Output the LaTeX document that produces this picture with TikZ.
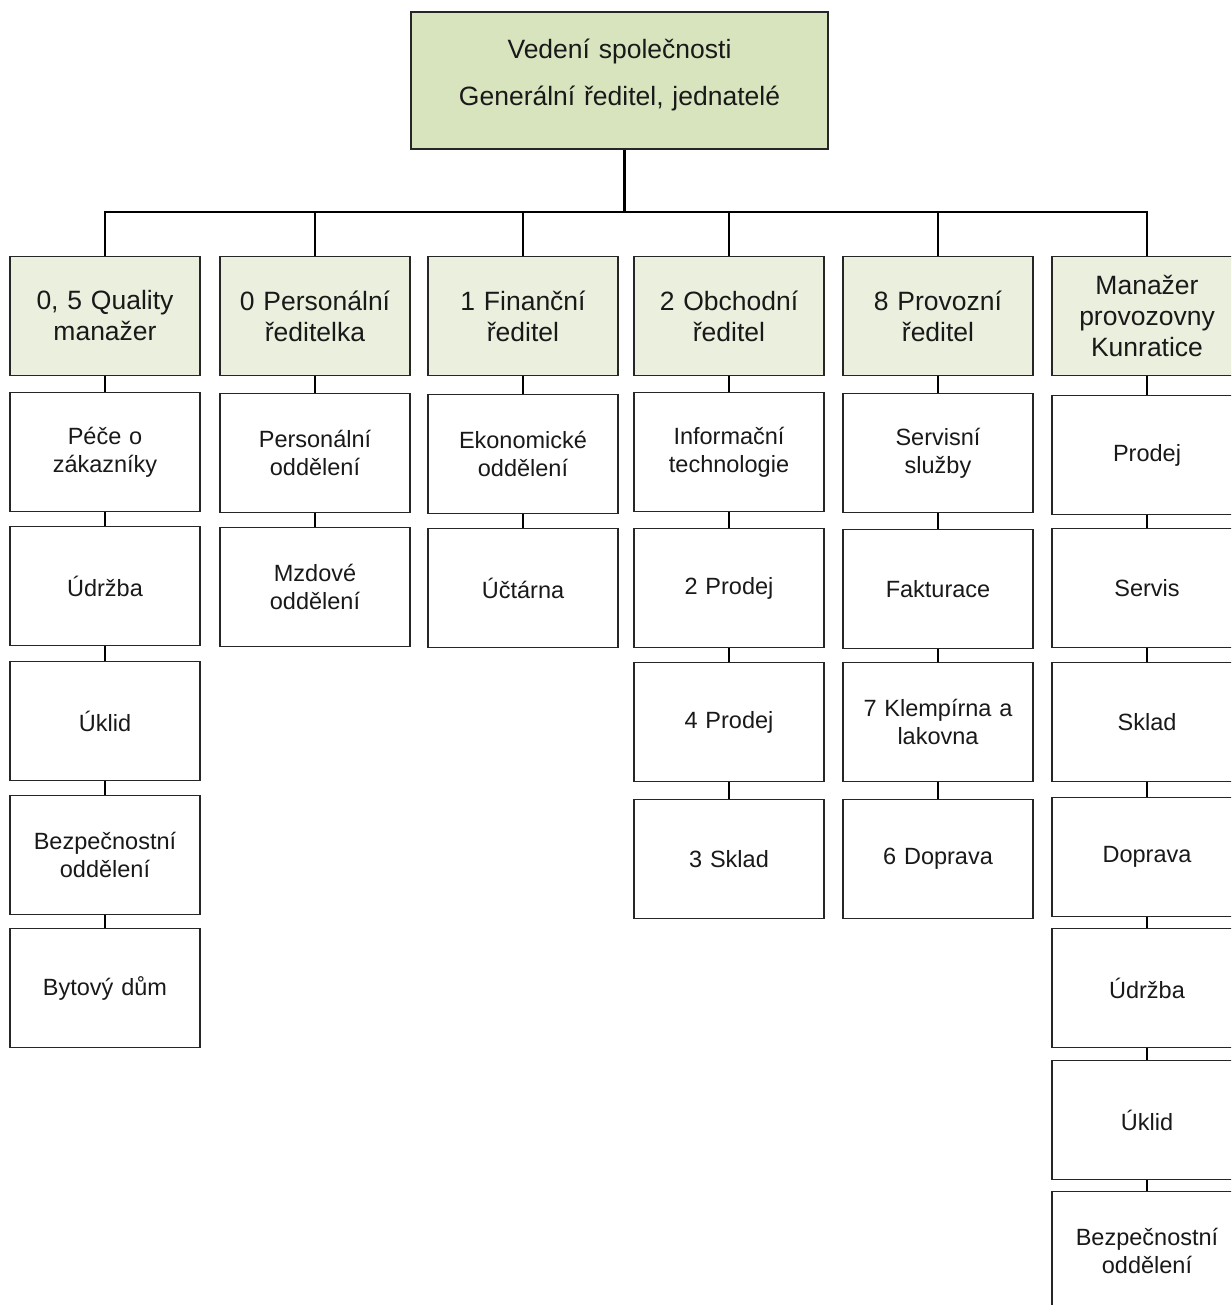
\documentclass[tikz,border=0pt]{standalone}
\usepackage{fontspec}
\setmainfont{Liberation Sans}
\definecolor{headgreen}{HTML}{D8E4BE}
\definecolor{paleolive}{HTML}{EBEFDE}
\begin{document}
\begin{tikzpicture}[x=1pt, y=-1pt]
        \tikzset{
            box/.style={rectangle, draw=black!85, line width=1.3pt, minimum width=190pt, minimum height=119pt,
                        text width=184pt, align=center, inner sep=0pt, text=black!90},
            head/.style={box, fill=headgreen, minimum width=417pt, minimum height=137pt, text width=400pt,
                         text depth=63pt, font=\fontsize{26.5}{47}\selectfont},
            chief/.style={box, fill=paleolive, font=\fontsize{26.5}{31}\selectfont},
            unit/.style={box, fill=white, font=\fontsize{23.5}{28}\selectfont},
            link/.style={line width=2.2pt, black}
        }
        \clip (0,0) rectangle (1231,1305);

        \node[head] (top) at (619.5,80.5) {Vedení společnosti\\Generální ředitel, jednatelé};

        % directors
        \node[chief] (q) at (105,316) {0, 5 Quality\\manažer};
        \node[chief] (p) at (315,316) {0 Personální\\ředitelka};
        \node[chief] (f) at (523,316) {1 Finanční\\ředitel};
        \node[chief] (o) at (729,316) {2 Obchodní\\ředitel};
        \node[chief] (s) at (938,316) {8 Provozní\\ředitel};
        \node[chief] (k) at (1147,316) {Manažer\\provozovny\\Kunratice};

        % quality
        \node[unit] (q1) at (105,452) {Péče o\\zákazníky};
        \node[unit] (q2) at (105,586) {Údržba};
        \node[unit] (q3) at (105,721) {Úklid};
        \node[unit] (q4) at (105,855) {Bezpečnostní\\oddělení};
        \node[unit] (q5) at (105,988) {Bytový dům};

        % personal
        \node[unit] (p1) at (315,453) {Personální\\oddělení};
        \node[unit] (p2) at (315,587) {Mzdové\\oddělení};

        % finance
        \node[unit] (f1) at (523,454) {Ekonomické\\oddělení};
        \node[unit] (f2) at (523,588) {Účtárna};

        % sales
        \node[unit] (o1) at (729,452) {Informační\\technologie};
        \node[unit] (o2) at (729,588) {2 Prodej};
        \node[unit] (o3) at (729,722) {4 Prodej};
        \node[unit] (o4) at (729,859) {3 Sklad};

        % operations
        \node[unit] (s1) at (938,453) {Servisní\\služby};
        \node[unit] (s2) at (938,589) {Fakturace};
        \node[unit] (s3) at (938,722) {7 Klempírna a\\lakovna};
        \node[unit] (s4) at (938,859) {6 Doprava};

        % Kunratice
        \node[unit] (k1) at (1147,455) {Prodej};
        \node[unit] (k2) at (1147,588) {Servis};
        \node[unit] (k3) at (1147,722) {Sklad};
        \node[unit] (k4) at (1147,857) {Doprava};
        \node[unit] (k5) at (1147,988) {Údržba};
        \node[unit] (k6) at (1147,1120) {Úklid};
        \node[unit] (k7) at (1147,1251) {Bezpečnostní\\oddělení};

        \draw[link] ([xshift=5pt]top.south) -- ++(0,62) coordinate (bus);
        \foreach \n in {q,p,f,o,s,k}
            \draw[link] (\n.north) |- (bus);

        \draw[link] (q.south) -- (q1.north);
        \draw[link] (q1.south) -- (q2.north);
        \draw[link] (q2.south) -- (q3.north);
        \draw[link] (q3.south) -- (q4.north);
        \draw[link] (q4.south) -- (q5.north);
        \draw[link] (p.south) -- (p1.north);
        \draw[link] (p1.south) -- (p2.north);
        \draw[link] (f.south) -- (f1.north);
        \draw[link] (f1.south) -- (f2.north);
        \draw[link] (o.south) -- (o1.north);
        \draw[link] (o1.south) -- (o2.north);
        \draw[link] (o2.south) -- (o3.north);
        \draw[link] (o3.south) -- (o4.north);
        \draw[link] (s.south) -- (s1.north);
        \draw[link] (s1.south) -- (s2.north);
        \draw[link] (s2.south) -- (s3.north);
        \draw[link] (s3.south) -- (s4.north);
        \draw[link] (k.south) -- (k1.north);
        \draw[link] (k1.south) -- (k2.north);
        \draw[link] (k2.south) -- (k3.north);
        \draw[link] (k3.south) -- (k4.north);
        \draw[link] (k4.south) -- (k5.north);
        \draw[link] (k5.south) -- (k6.north);
        \draw[link] (k6.south) -- (k7.north);
\end{tikzpicture}
\end{document}
